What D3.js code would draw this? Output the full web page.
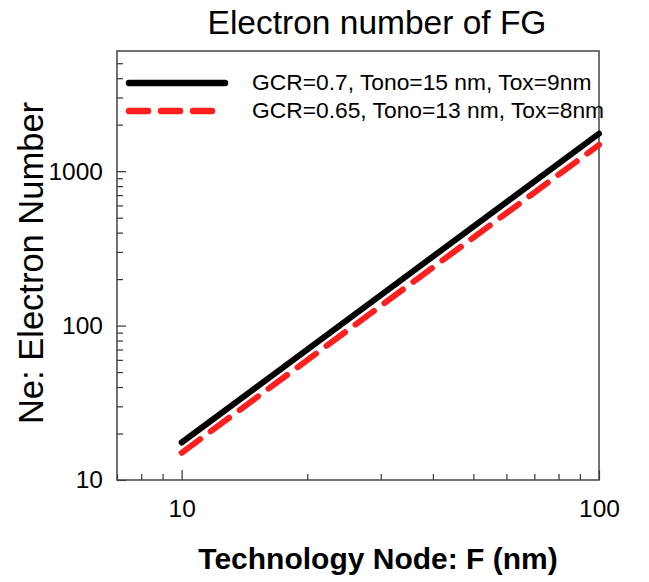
<!DOCTYPE html>
<html>
<head>
<meta charset="utf-8">
<script src="https://cdn.jsdelivr.net/npm/d3@7"></script>
<style>
  body { margin: 0; background: #fff; }
  text { font-family: "Liberation Sans", Arial, sans-serif; fill: #000; }
</style>
</head>
<body>
<div id="chart"></div>
<script>
// series (log-log straight lines)
var nodeF = [10, 100];
var neThick = [17.5, 1750];   // GCR=0.7
var neThin = [15, 1480];      // GCR=0.65
var seriesNames = ['GCR=0.7, Tono=15 nm, Tox=9nm', 'GCR=0.65, Tono=13 nm, Tox=8nm'];
var xTickLabels = [10, 100];
var yTickLabels = [10, 100, 1000];

var margin = {left: 117, top: 51, right: 50, bottom: 102};
var width = 649 - margin.left - margin.right;
var height = 582 - margin.top - margin.bottom;

var svg = d3.select('#chart')
  .append('svg')
    .attr('width', 649)
    .attr('height', 582);

var g = svg.append('g')
  .attr('transform', 'translate(' + margin.left + ',' + margin.top + ')');

var x = d3.scaleLog().domain([7, 100]).range([0, width]);
var y = d3.scaleLog().domain([10, 6000]).range([height, 0]);

// minor and major ticks, drawn inward
var xMinor = [7, 8, 9, 20, 30, 40, 50, 60, 70, 80, 90];
var yMinor = [20, 30, 40, 50, 60, 70, 80, 90, 200, 300, 400, 500, 600, 700, 800, 900, 2000, 3000, 4000, 5000];

function styleLabels(a){
  a.select('.domain').remove();
  a.selectAll('text')
    .attr('font-size', 24.5)
    .style('font-family', '"Liberation Sans", Arial, sans-serif');
}

g.append('g')
  .attr('transform', 'translate(0,' + height + ')')
  .call(d3.axisBottom(x).tickValues(xMinor).tickSize(-6).tickFormat(''))
  .call(function(a){ a.select('.domain').remove(); });
g.append('g')
  .attr('transform', 'translate(0,' + height + ')')
  .call(d3.axisBottom(x).tickValues(xTickLabels).tickSize(-10).tickPadding(20).tickFormat(d3.format('d')))
  .call(styleLabels);

g.append('g')
  .call(d3.axisLeft(y).tickValues(yMinor).tickSize(-6).tickFormat(''))
  .call(function(a){ a.select('.domain').remove(); });
g.append('g')
  .call(d3.axisLeft(y).tickValues(yTickLabels).tickSize(-9).tickPadding(14).tickFormat(d3.format('d')))
  .call(styleLabels);

g.selectAll('.tick line').attr('stroke', '#333').attr('stroke-width', 1.2);

g.append('rect')
  .attr('width', width)
  .attr('height', height)
  .attr('fill', 'none')
  .attr('stroke', '#444')
  .attr('stroke-width', 1.5);

var line = d3.line()
  .x(function(d){ return x(d[0]); })
  .y(function(d){ return y(d[1]); });

var styles = [
  {color: '#000', dash: null, legendDash: null},
  {color: '#ff1f1f', dash: '23,13', legendDash: '19,13'}
];
var series = [neThick, neThin];

series.forEach(function(vals, i){
  g.append('path')
    .datum(nodeF.map(function(f, j){ return [f, vals[j]]; }))
    .attr('d', line)
    .attr('fill', 'none')
    .attr('stroke', styles[i].color)
    .attr('stroke-width', 6)
    .attr('stroke-linecap', 'round')
    .attr('stroke-dasharray', styles[i].dash);
});

// legend
var legend = g.append('g').attr('transform', 'translate(12,32)');
seriesNames.forEach(function(name, i){
  var row = legend.append('g').attr('transform', 'translate(0,' + (i * 28) + ')');
  row.append('line')
    .attr('x1', 0).attr('x2', 96)
    .attr('stroke', styles[i].color)
    .attr('stroke-width', 6.5)
    .attr('stroke-linecap', 'round')
    .attr('stroke-dasharray', styles[i].legendDash);
  row.append('text')
    .attr('x', 123)
    .attr('y', 7)
    .attr('font-size', 22.8)
    .text(name);
});

svg.append('text')
  .attr('x', 377)
  .attr('y', 34)
  .attr('text-anchor', 'middle')
  .attr('font-size', 33.5)
  .text('Electron number of FG');

svg.append('text')
  .attr('transform', 'translate(43,263) rotate(-90)')
  .attr('text-anchor', 'middle')
  .attr('font-size', 34.5)
  .text('Ne: Electron Number');

svg.append('text')
  .attr('x', 378)
  .attr('y', 569)
  .attr('text-anchor', 'middle')
  .attr('font-size', 30)
  .attr('font-weight', 'bold')
  .text('Technology Node: F (nm)');
</script>
</body>
</html>
